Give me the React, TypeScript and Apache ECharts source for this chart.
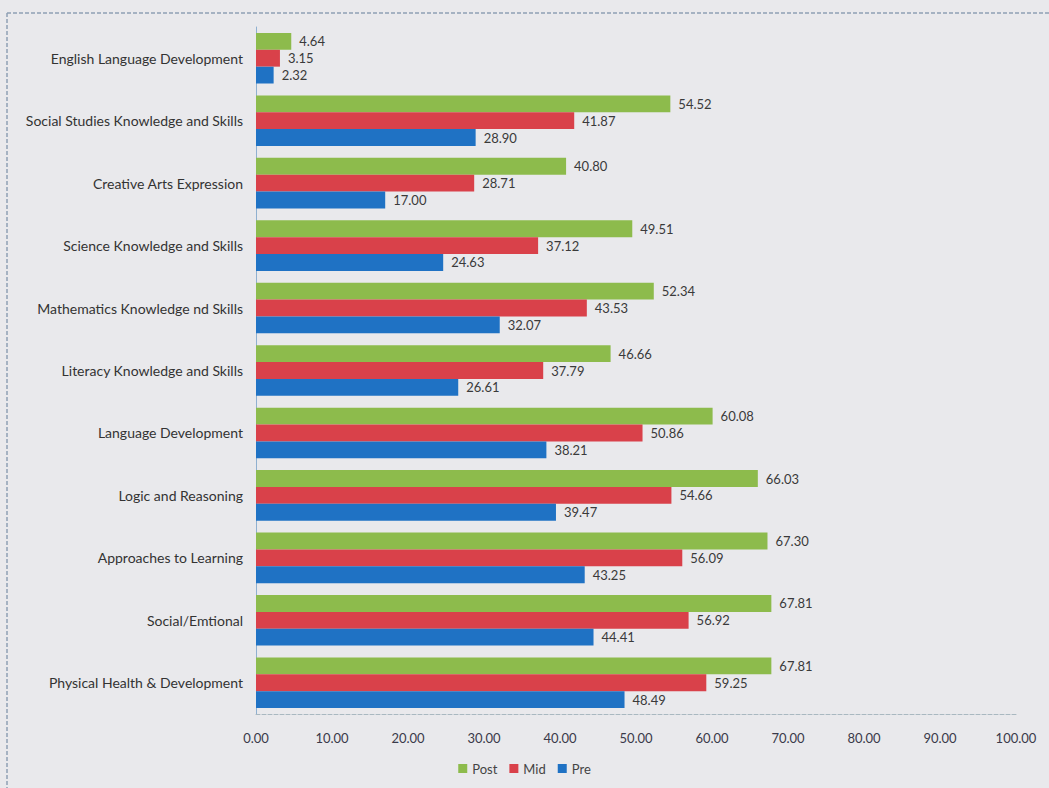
import React, { useEffect, useRef } from "react";
import * as echarts from "echarts";

const categories = [
  "English Language Development",
  "Social Studies Knowledge and Skills",
  "Creative Arts Expression",
  "Science Knowledge and Skills",
  "Mathematics Knowledge nd Skills",
  "Literacy Knowledge and Skills",
  "Language Development",
  "Logic and Reasoning",
  "Approaches to Learning",
  "Social/Emtional",
  "Physical Health & Development",
];

const postValues = [4.64, 54.52, 40.8, 49.51, 52.34, 46.66, 60.08, 66.03, 67.3, 67.81, 67.81];
const midValues = [3.15, 41.87, 28.71, 37.12, 43.53, 37.79, 50.86, 54.66, 56.09, 56.92, 59.25];
const preValues = [2.32, 28.9, 17.0, 24.63, 32.07, 26.61, 38.21, 39.47, 43.25, 44.41, 48.49];

const seriesNames = ["Post", "Mid", "Pre"];
const colors = ["#8dbb4c", "#d9414a", "#1f72c4"];

const FONT = "Lato, 'Open Sans', sans-serif";

export default function App() {
  const ref = useRef<HTMLDivElement>(null);
  useEffect(() => {
    document.body.style.margin = "0";
    const chart = echarts.init(ref.current!, null, { renderer: "svg" });
    const label = {
      show: true,
      position: "right" as const,
      distance: 8,
      color: "#3a3a3a",
      fontSize: 13,
      fontFamily: FONT,
      formatter: (p: any) => Number(p.value).toFixed(2),
    };
    const data = [postValues, midValues, preValues];
    chart.setOption({
      animation: false,
      backgroundColor: "#e9e9ec",
      color: colors,
      textStyle: { fontFamily: FONT },
      grid: { left: 256, right: 33, top: 27, bottom: 74 },
      legend: {
        bottom: 8,
        left: "center",
        itemWidth: 9,
        itemHeight: 9,
        itemGap: 12,
        icon: "rect",
        textStyle: { color: "#444", fontSize: 13, fontFamily: FONT },
        data: seriesNames,
      },
      xAxis: {
        type: "value",
        min: 0,
        max: 100,
        interval: 10,
        splitLine: { show: false },
        axisLine: { show: true, lineStyle: { color: "#a9b8c0", type: "dashed", width: 1 } },
        axisTick: { show: false },
        axisLabel: {
          color: "#3a3a4a",
          fontSize: 13,
          fontFamily: FONT,
          margin: 17,
          formatter: (v: number) => v.toFixed(2),
        },
      },
      yAxis: {
        type: "category",
        inverse: true,
        data: categories,
        axisLine: { show: true, lineStyle: { color: "#8fb0d0", width: 1 } },
        axisTick: { show: false },
        axisLabel: { color: "#333", fontSize: 14, fontFamily: FONT, margin: 13 },
      },
      graphic: [
        {
          type: "line",
          shape: { x1: 7, y1: 13, x2: 1049, y2: 13 },
          style: { stroke: "#8fa0b4", lineWidth: 1.5, lineDash: [4, 2] },
        },
        {
          type: "line",
          shape: { x1: 7, y1: 13, x2: 7, y2: 788 },
          style: { stroke: "#8fa0b4", lineWidth: 1.5, lineDash: [4, 2] },
        },
      ],
      series: seriesNames.map((name, i) => ({
        name,
        type: "bar",
        data: data[i],
        barGap: "0%",
        barCategoryGap: "19%",
        itemStyle: { color: colors[i] },
        label,
      })),
    });
    return () => chart.dispose();
  }, []);
  return <div ref={ref} style={{ width: 1049, height: 788 }} />;
}
